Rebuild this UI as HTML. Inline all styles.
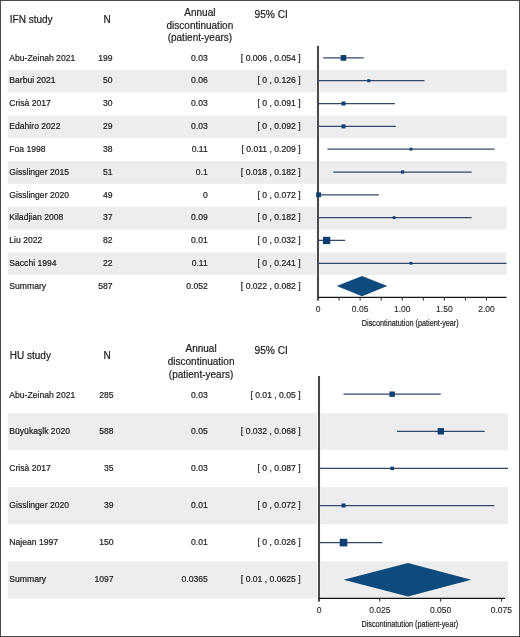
<!DOCTYPE html>
<html><head><meta charset="utf-8"><style>
html,body{margin:0;padding:0;background:#fff;}
body{width:520px;height:637px;overflow:hidden;position:relative;}
svg{position:absolute;left:0;top:0;will-change:transform;}
text{font-family:"Liberation Sans",sans-serif;fill:#1c1c1c;stroke:#1c1c1c;stroke-width:0.2px;}
</style></head><body>
<svg width="520" height="637" viewBox="0 0 520 637">
<rect x="0" y="0" width="520" height="637" fill="#fff"/>

<rect x="7.6" y="69.72" width="308.50" height="22.82" fill="#ededef"/>
<rect x="319.90" y="69.72" width="186.60" height="22.82" fill="#ededef"/>
<rect x="7.6" y="115.36" width="308.50" height="22.82" fill="#ededef"/>
<rect x="319.90" y="115.36" width="186.60" height="22.82" fill="#ededef"/>
<rect x="7.6" y="161.00" width="308.50" height="22.82" fill="#ededef"/>
<rect x="319.90" y="161.00" width="186.60" height="22.82" fill="#ededef"/>
<rect x="7.6" y="206.64" width="308.50" height="22.82" fill="#ededef"/>
<rect x="319.90" y="206.64" width="186.60" height="22.82" fill="#ededef"/>
<rect x="7.6" y="252.28" width="308.50" height="22.82" fill="#ededef"/>
<rect x="319.90" y="252.28" width="186.60" height="22.82" fill="#ededef"/>
<text x="9.3" y="60.65" font-size="8.6">Abu-Zeinah 2021</text>
<text x="112.6" y="60.65" font-size="8.6" text-anchor="end">199</text>
<text x="207.8" y="60.65" font-size="8.6" text-anchor="end">0.03</text>
<text x="300.6" y="60.65" font-size="8.6" text-anchor="end">[ 0.006 , 0.054 ]</text>
<text x="9.3" y="83.47" font-size="8.6">Barbui 2021</text>
<text x="112.6" y="83.47" font-size="8.6" text-anchor="end">50</text>
<text x="207.8" y="83.47" font-size="8.6" text-anchor="end">0.06</text>
<text x="300.6" y="83.47" font-size="8.6" text-anchor="end">[ 0 , 0.126 ]</text>
<text x="9.3" y="106.29" font-size="8.6">Crisà 2017</text>
<text x="112.6" y="106.29" font-size="8.6" text-anchor="end">30</text>
<text x="207.8" y="106.29" font-size="8.6" text-anchor="end">0.03</text>
<text x="300.6" y="106.29" font-size="8.6" text-anchor="end">[ 0 , 0.091 ]</text>
<text x="9.3" y="129.11" font-size="8.6">Edahiro 2022</text>
<text x="112.6" y="129.11" font-size="8.6" text-anchor="end">29</text>
<text x="207.8" y="129.11" font-size="8.6" text-anchor="end">0.03</text>
<text x="300.6" y="129.11" font-size="8.6" text-anchor="end">[ 0 , 0.092 ]</text>
<text x="9.3" y="151.93" font-size="8.6">Foa 1998</text>
<text x="112.6" y="151.93" font-size="8.6" text-anchor="end">38</text>
<text x="207.8" y="151.93" font-size="8.6" text-anchor="end">0.11</text>
<text x="300.6" y="151.93" font-size="8.6" text-anchor="end">[ 0.011 , 0.209 ]</text>
<text x="9.3" y="174.75" font-size="8.6">Gisslinger 2015</text>
<text x="112.6" y="174.75" font-size="8.6" text-anchor="end">51</text>
<text x="207.8" y="174.75" font-size="8.6" text-anchor="end">0.1</text>
<text x="300.6" y="174.75" font-size="8.6" text-anchor="end">[ 0.018 , 0.182 ]</text>
<text x="9.3" y="197.57" font-size="8.6">Gisslinger 2020</text>
<text x="112.6" y="197.57" font-size="8.6" text-anchor="end">49</text>
<text x="207.8" y="197.57" font-size="8.6" text-anchor="end">0</text>
<text x="300.6" y="197.57" font-size="8.6" text-anchor="end">[ 0 , 0.072 ]</text>
<text x="9.3" y="220.39" font-size="8.6">Kiladjian 2008</text>
<text x="112.6" y="220.39" font-size="8.6" text-anchor="end">37</text>
<text x="207.8" y="220.39" font-size="8.6" text-anchor="end">0.09</text>
<text x="300.6" y="220.39" font-size="8.6" text-anchor="end">[ 0 , 0.182 ]</text>
<text x="9.3" y="243.21" font-size="8.6">Liu 2022</text>
<text x="112.6" y="243.21" font-size="8.6" text-anchor="end">82</text>
<text x="207.8" y="243.21" font-size="8.6" text-anchor="end">0.01</text>
<text x="300.6" y="243.21" font-size="8.6" text-anchor="end">[ 0 , 0.032 ]</text>
<text x="9.3" y="266.03" font-size="8.6">Sacchi 1994</text>
<text x="112.6" y="266.03" font-size="8.6" text-anchor="end">22</text>
<text x="207.8" y="266.03" font-size="8.6" text-anchor="end">0.11</text>
<text x="300.6" y="266.03" font-size="8.6" text-anchor="end">[ 0 , 0.241 ]</text>
<text x="9.3" y="288.85" font-size="8.6">Summary</text>
<text x="112.6" y="288.85" font-size="8.6" text-anchor="end">587</text>
<text x="207.8" y="288.85" font-size="8.6" text-anchor="end">0.052</text>
<text x="300.6" y="288.85" font-size="8.6" text-anchor="end">[ 0.022 , 0.082 ]</text>
<line x1="318" y1="45.8" x2="318" y2="300.59999999999997" stroke="#4a4a4a" stroke-width="2.1"/>
<line x1="318" y1="297.4" x2="506.5" y2="297.4" stroke="#151515" stroke-width="1.2"/>
<line x1="339.06" y1="297.4" x2="339.06" y2="300.59999999999997" stroke="#2a2a2a" stroke-width="1"/>
<line x1="360.12" y1="297.4" x2="360.12" y2="300.59999999999997" stroke="#2a2a2a" stroke-width="1"/>
<line x1="381.18" y1="297.4" x2="381.18" y2="300.59999999999997" stroke="#2a2a2a" stroke-width="1"/>
<line x1="402.24" y1="297.4" x2="402.24" y2="300.59999999999997" stroke="#2a2a2a" stroke-width="1"/>
<line x1="423.30" y1="297.4" x2="423.30" y2="300.59999999999997" stroke="#2a2a2a" stroke-width="1"/>
<line x1="444.36" y1="297.4" x2="444.36" y2="300.59999999999997" stroke="#2a2a2a" stroke-width="1"/>
<line x1="465.42" y1="297.4" x2="465.42" y2="300.59999999999997" stroke="#2a2a2a" stroke-width="1"/>
<line x1="486.48" y1="297.4" x2="486.48" y2="300.59999999999997" stroke="#2a2a2a" stroke-width="1"/>
<text x="318.00" y="312.1" font-size="8.5" text-anchor="middle" style="stroke-width:0.1px">0</text>
<text x="360.12" y="312.1" font-size="8.5" text-anchor="middle" style="stroke-width:0.1px">0.05</text>
<text x="402.24" y="312.1" font-size="8.5" text-anchor="middle" style="stroke-width:0.1px">1.00</text>
<text x="444.36" y="312.1" font-size="8.5" text-anchor="middle" style="stroke-width:0.1px">1.50</text>
<text x="486.48" y="312.1" font-size="8.5" text-anchor="middle" style="stroke-width:0.1px">2.00</text>
<text x="0" y="0" font-size="9.9" stroke="#1c1c1c" stroke-width="0.5" transform="translate(361.8 325.8) scale(0.735 1)">Discontinatution (patient-year)</text>
<clipPath id="c46.9"><rect x="318.16" y="36.9" width="188.33999999999997" height="400"/></clipPath>
<g clip-path="url(#c46.9)">
<line x1="323.22" y1="57.90" x2="363.71" y2="57.90" stroke="#34496a" stroke-width="1.25"/>
<line x1="318.16" y1="80.72" x2="424.45" y2="80.72" stroke="#34496a" stroke-width="1.25"/>
<line x1="318.16" y1="103.54" x2="394.93" y2="103.54" stroke="#34496a" stroke-width="1.25"/>
<line x1="318.16" y1="126.36" x2="395.77" y2="126.36" stroke="#34496a" stroke-width="1.25"/>
<line x1="327.44" y1="149.18" x2="494.47" y2="149.18" stroke="#34496a" stroke-width="1.25"/>
<line x1="333.34" y1="172.00" x2="471.70" y2="172.00" stroke="#34496a" stroke-width="1.25"/>
<line x1="318.16" y1="194.82" x2="378.90" y2="194.82" stroke="#34496a" stroke-width="1.25"/>
<line x1="318.16" y1="217.64" x2="471.70" y2="217.64" stroke="#34496a" stroke-width="1.25"/>
<line x1="318.16" y1="240.46" x2="345.16" y2="240.46" stroke="#34496a" stroke-width="1.25"/>
<line x1="318.16" y1="263.28" x2="521.47" y2="263.28" stroke="#34496a" stroke-width="1.25"/>
</g>
<rect x="340.62" y="55.05" width="5.7" height="5.7" fill="#0f3f70"/>
<rect x="367.28" y="79.22" width="3.0" height="3.0" fill="#0f3f70"/>
<rect x="341.47" y="101.54" width="4.0" height="4.0" fill="#0f3f70"/>
<rect x="341.47" y="124.36" width="4.0" height="4.0" fill="#0f3f70"/>
<rect x="409.56" y="147.78" width="2.8" height="2.8" fill="#0f3f70"/>
<rect x="400.92" y="170.40" width="3.2" height="3.2" fill="#0f3f70"/>
<rect x="316.18" y="192.42" width="4.8" height="4.8" fill="#0f3f70"/>
<rect x="392.68" y="216.24" width="2.8" height="2.8" fill="#0f3f70"/>
<rect x="322.95" y="236.81" width="7.3" height="7.3" fill="#0f3f70"/>
<rect x="409.56" y="261.88" width="2.8" height="2.8" fill="#0f3f70"/>
<polygon points="336.72,286.10 362.03,276.00 387.34,286.10 362.03,296.20" fill="#0d4a7e"/>
<rect x="7.6" y="413.00" width="309.40" height="37.10" fill="#ededef"/>
<rect x="320.60" y="413.00" width="187.40" height="37.10" fill="#ededef"/>
<rect x="7.6" y="487.20" width="309.40" height="37.10" fill="#ededef"/>
<rect x="320.60" y="487.20" width="187.40" height="37.10" fill="#ededef"/>
<rect x="7.6" y="561.40" width="309.40" height="37.10" fill="#ededef"/>
<rect x="320.60" y="561.40" width="187.40" height="37.10" fill="#ededef"/>
<text x="9.3" y="397.50" font-size="8.6">Abu-Zeinah 2021</text>
<text x="113.6" y="397.50" font-size="8.6" text-anchor="end">285</text>
<text x="207.8" y="397.50" font-size="8.6" text-anchor="end">0.03</text>
<text x="300.6" y="397.50" font-size="8.6" text-anchor="end">[ 0.01 , 0.05 ]</text>
<text x="9.3" y="434.40" font-size="8.6">Büyükaşlk 2020</text>
<text x="113.6" y="434.40" font-size="8.6" text-anchor="end">588</text>
<text x="207.8" y="434.40" font-size="8.6" text-anchor="end">0.05</text>
<text x="300.6" y="434.40" font-size="8.6" text-anchor="end">[ 0.032 , 0.068 ]</text>
<text x="9.3" y="471.30" font-size="8.6">Crisà 2017</text>
<text x="113.6" y="471.30" font-size="8.6" text-anchor="end">35</text>
<text x="207.8" y="471.30" font-size="8.6" text-anchor="end">0.03</text>
<text x="300.6" y="471.30" font-size="8.6" text-anchor="end">[ 0 , 0.087 ]</text>
<text x="9.3" y="508.20" font-size="8.6">Gisslinger 2020</text>
<text x="113.6" y="508.20" font-size="8.6" text-anchor="end">39</text>
<text x="207.8" y="508.20" font-size="8.6" text-anchor="end">0.01</text>
<text x="300.6" y="508.20" font-size="8.6" text-anchor="end">[ 0 , 0.072 ]</text>
<text x="9.3" y="545.10" font-size="8.6">Najean 1997</text>
<text x="113.6" y="545.10" font-size="8.6" text-anchor="end">150</text>
<text x="207.8" y="545.10" font-size="8.6" text-anchor="end">0.01</text>
<text x="300.6" y="545.10" font-size="8.6" text-anchor="end">[ 0 , 0.026 ]</text>
<text x="9.3" y="582.00" font-size="8.6">Summary</text>
<text x="113.6" y="582.00" font-size="8.6" text-anchor="end">1097</text>
<text x="207.8" y="582.00" font-size="8.6" text-anchor="end">0.0365</text>
<text x="300.6" y="582.00" font-size="8.6" text-anchor="end">[ 0.01 , 0.0625 ]</text>
<line x1="319" y1="376" x2="319" y2="601.6" stroke="#4a4a4a" stroke-width="2.1"/>
<line x1="319" y1="598.4" x2="505" y2="598.4" stroke="#151515" stroke-width="1.2"/>
<line x1="379.80" y1="598.4" x2="379.80" y2="601.6" stroke="#2a2a2a" stroke-width="1"/>
<line x1="440.60" y1="598.4" x2="440.60" y2="601.6" stroke="#2a2a2a" stroke-width="1"/>
<line x1="501.40" y1="598.4" x2="501.40" y2="601.6" stroke="#2a2a2a" stroke-width="1"/>
<text x="319.00" y="613.0" font-size="8.5" text-anchor="middle" style="stroke-width:0.1px">0</text>
<text x="379.80" y="613.0" font-size="8.5" text-anchor="middle" style="stroke-width:0.1px">0.025</text>
<text x="440.60" y="613.0" font-size="8.5" text-anchor="middle" style="stroke-width:0.1px">0.050</text>
<text x="501.40" y="613.0" font-size="8.5" text-anchor="middle" style="stroke-width:0.1px">0.075</text>
<text x="0" y="0" font-size="9.9" stroke="#1c1c1c" stroke-width="0.5" transform="translate(361.4 627.2) scale(0.735 1)">Discontinatution (patient-year)</text>
<clipPath id="c375.9"><rect x="319.2" y="365.9" width="188.8" height="400"/></clipPath>
<g clip-path="url(#c375.9)">
<line x1="343.52" y1="394.20" x2="440.81" y2="394.20" stroke="#34496a" stroke-width="1.25"/>
<line x1="397.03" y1="431.30" x2="484.60" y2="431.30" stroke="#34496a" stroke-width="1.25"/>
<line x1="319.20" y1="468.40" x2="530.81" y2="468.40" stroke="#34496a" stroke-width="1.25"/>
<line x1="319.20" y1="505.50" x2="494.33" y2="505.50" stroke="#34496a" stroke-width="1.25"/>
<line x1="319.20" y1="542.60" x2="382.44" y2="542.60" stroke="#34496a" stroke-width="1.25"/>
</g>
<rect x="389.47" y="391.50" width="5.4" height="5.4" fill="#0f3f70"/>
<rect x="437.62" y="428.10" width="6.4" height="6.4" fill="#0f3f70"/>
<rect x="390.42" y="466.65" width="3.5" height="3.5" fill="#0f3f70"/>
<rect x="341.52" y="503.50" width="4.0" height="4.0" fill="#0f3f70"/>
<rect x="339.72" y="538.80" width="7.6" height="7.6" fill="#0f3f70"/>
<polygon points="343.52,579.70 407.98,562.90 471.22,579.70 407.98,596.50" fill="#0d4a7e"/>
<text x="9.8" y="23.00" font-size="10">IFN study</text>
<text x="107" y="23.00" font-size="10" text-anchor="middle">N</text>
<text x="199.90" y="15.90" font-size="10" text-anchor="middle">Annual</text>
<text x="199.90" y="28.60" font-size="10" text-anchor="middle">discontinuation</text>
<text x="199.90" y="41.20" font-size="10" text-anchor="middle">(patient-years)</text>
<text x="271.2" y="17.80" font-size="10.2" text-anchor="middle">95% CI</text>
<text x="9.8" y="359.40" font-size="10">HU study</text>
<text x="107" y="359.40" font-size="10" text-anchor="middle">N</text>
<text x="201.10" y="352.30" font-size="10" text-anchor="middle">Annual</text>
<text x="201.10" y="365.00" font-size="10" text-anchor="middle">discontinuation</text>
<text x="201.10" y="377.60" font-size="10" text-anchor="middle">(patient-years)</text>
<text x="271.2" y="354.20" font-size="10.2" text-anchor="middle">95% CI</text>
<rect x="0.5" y="0.5" width="519" height="636" fill="none" stroke="#4a4a4a" stroke-width="1"/>
</svg></body></html>
